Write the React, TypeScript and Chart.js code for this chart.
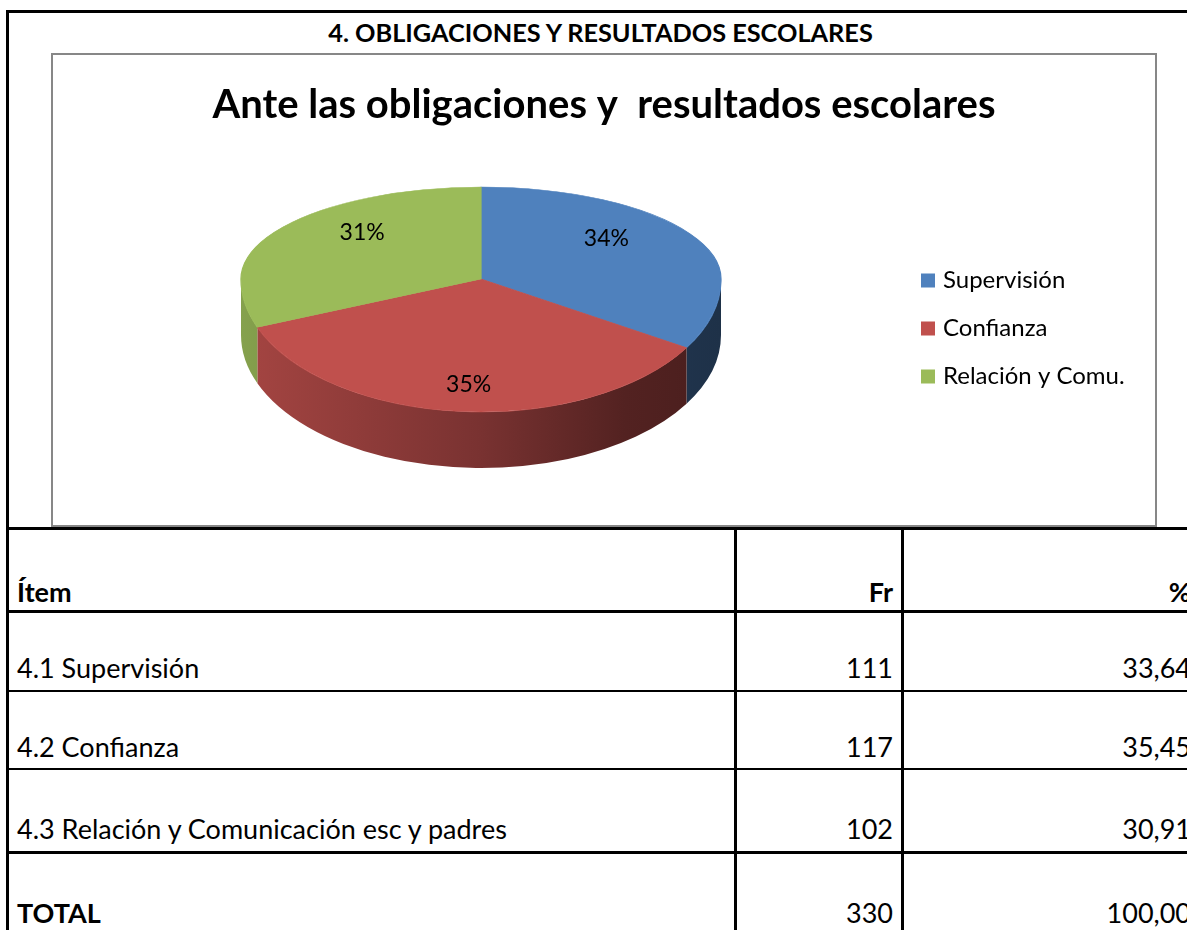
import React, { useEffect, useRef } from 'react';
import { Chart, registerables } from 'chart.js';

Chart.register(...registerables);

// ---- data ----
const sectionTitle = '4. OBLIGACIONES Y RESULTADOS ESCOLARES';
const chartTitle = 'Ante las obligaciones y  resultados escolares';
const legendLabels = ['Supervisión', 'Confianza', 'Relación y Comu.'];
const frequencies = [111, 117, 102];
const sliceColors = ['#4F81BD', '#C0504D', '#9BBB59'];
const headerLabels = ['Ítem', 'Fr', '%'];
const itemLabels = ['4.1 Supervisión', '4.2 Confianza', '4.3 Relación y Comunicación esc y padres'];
const percentLabels = ['33,64', '35,45', '30,91'];
const totalLabel = 'TOTAL';
const totalFrequency = '330';
const totalPercent = '100,00';

const FONT = 'Lato, "Open Sans", sans-serif';

// ---- 3D projection (canvas coords) ----
const CX = 428;
const CY = 224;
const RX = 240;
const RY_TOP = 92;
const RY_BOT = 133;
const DEPTH = 56;
const LABEL_KX = 0.6;
const LABEL_KY_TOP = 0.9;
const LABEL_KY_BOT = 0.8;
const LEGEND_LEFT = 848;
const LEGEND_TOP = 189.5;

function shade(hex: string, f: number) {
  const n = parseInt(hex.slice(1), 16);
  const r = Math.round(((n >> 16) & 255) * f);
  const g = Math.round(((n >> 8) & 255) * f);
  const b = Math.round((n & 255) * f);
  return `rgb(${r},${g},${b})`;
}

const pie3d = {
  id: 'pie3d',
  afterLayout(chart: any) {
    const lg = chart.legend;
    if (lg) {
      lg.left = LEGEND_LEFT;
      lg.top = LEGEND_TOP;
    }
  },
  beforeDatasetsDraw(chart: any) {
    const ctx = chart.ctx;
    const meta = chart.getDatasetMeta(0);
    const colors = chart.data.datasets[0].backgroundColor as string[];
    const TWO_PI = Math.PI * 2;
    meta.data.forEach((el: any, i: number) => {
      const { startAngle, endAngle } = el.getProps(['startAngle', 'endAngle'], true);
      for (const k of [-1, 0, 1, 2]) {
        const lo = Math.max(startAngle, k * TWO_PI);
        const hi = Math.min(endAngle, k * TWO_PI + Math.PI);
        if (hi <= lo) continue;
        const a = lo - k * TWO_PI;
        const b = hi - k * TWO_PI;
        ctx.save();
        ctx.beginPath();
        ctx.ellipse(CX, CY, RX, RY_BOT, 0, a, b, false);
        ctx.ellipse(CX, CY + DEPTH, RX, RY_BOT, 0, b, a, true);
        ctx.closePath();
        const g = ctx.createLinearGradient(CX - RX, 0, CX + RX, 0);
        g.addColorStop(0, shade(colors[i], 0.86));
        g.addColorStop(0.5, shade(colors[i], 0.63));
        g.addColorStop(0.8, shade(colors[i], 0.43));
        g.addColorStop(1, shade(colors[i], 0.38));
        ctx.fillStyle = g;
        ctx.fill();
        ctx.restore();
      }
    });
  },
  beforeDatasetDraw(chart: any, args: any) {
    const ctx = chart.ctx;
    const el = args.meta.data[0];
    const { x, y, outerRadius } = el.getProps(['x', 'y', 'outerRadius'], true);
    ctx.save();
    ctx.beginPath();
    ctx.rect(0, 0, chart.width, CY);
    ctx.clip();
    ctx.translate(CX, CY);
    ctx.scale(RX / outerRadius, RY_TOP / outerRadius);
    ctx.translate(-x, -y);
  },
  afterDatasetDraw(chart: any, args: any) {
    const ctx = chart.ctx;
    ctx.restore();
    const el = args.meta.data[0];
    const { x, y, outerRadius } = el.getProps(['x', 'y', 'outerRadius'], true);
    ctx.save();
    ctx.beginPath();
    ctx.rect(0, CY, chart.width, chart.height - CY);
    ctx.clip();
    ctx.translate(CX, CY);
    ctx.scale(RX / outerRadius, RY_BOT / outerRadius);
    ctx.translate(-x, -y);
    args.meta.controller.draw();
    ctx.restore();
  },
  afterDatasetsDraw(chart: any) {
    const ctx = chart.ctx;
    const meta = chart.getDatasetMeta(0);
    const values = chart.data.datasets[0].data as number[];
    const total = values.reduce((s, v) => s + v, 0);
    ctx.save();
    ctx.font = `23px ${FONT}`;
    ctx.fillStyle = '#000';
    ctx.textAlign = 'center';
    ctx.textBaseline = 'middle';
    meta.data.forEach((el: any, i: number) => {
      const { startAngle, endAngle } = el.getProps(['startAngle', 'endAngle'], true);
      const mid = (startAngle + endAngle) / 2;
      const s = Math.sin(mid);
      const lx = CX + Math.cos(mid) * RX * LABEL_KX;
      const ly = CY + s * (s < 0 ? RY_TOP * LABEL_KY_TOP : RY_BOT * LABEL_KY_BOT);
      ctx.fillText(`${Math.round((values[i] / total) * 100)}%`, lx, ly);
    });
    ctx.restore();
  },
};

function PieChart() {
  const ref = useRef<HTMLCanvasElement>(null);
  useEffect(() => {
    if (!ref.current) return;
    const chart = new Chart(ref.current, {
      type: 'pie',
      data: {
        labels: legendLabels,
        datasets: [
          {
            data: frequencies,
            backgroundColor: sliceColors,
            borderColor: sliceColors,
            borderWidth: 1,
            clip: false,
          } as any,
        ],
      },
      options: {
        animation: false,
        responsive: true,
        maintainAspectRatio: false,
        events: [],
        layout: { padding: 0 },
        plugins: {
          tooltip: { enabled: false },
          title: {
            display: true,
            text: chartTitle,
            color: '#000',
            font: { family: FONT, size: 40, weight: 'bold' },
            padding: { top: 26, bottom: 10 },
          },
          legend: {
            position: 'right',
            align: 'start',
            labels: {
              color: '#000',
              font: { family: FONT, size: 24 },
              boxWidth: 6,
              boxHeight: 6,
              padding: 24,
              generateLabels: (c: any) =>
                (Chart as any).overrides.doughnut.plugins.legend.labels
                  .generateLabels(c)
                  .map((l: any) => ({ ...l, lineWidth: 8, strokeStyle: l.fillStyle })),
            },
          },
        },
      } as any,
      plugins: [pie3d],
    });
    return () => chart.destroy();
  }, []);
  return <canvas ref={ref} />;
}

type TextProps = {
  x: number;
  baseline: number;
  size: number;
  bold?: boolean;
  align?: 'left' | 'right' | 'center';
  children: React.ReactNode;
};

function Txt({ x, baseline, size, bold, align = 'left', children }: TextProps) {
  const w = 1000;
  const left = align === 'left' ? x : align === 'right' ? x - w : x - w / 2;
  return (
    <div
      style={{
        position: 'absolute',
        left,
        width: align === 'left' ? undefined : w,
        top: baseline - 0.987 * size,
        fontSize: size,
        lineHeight: `${1.2 * size}px`,
        fontWeight: bold ? 700 : 400,
        textAlign: align,
        whiteSpace: 'pre',
        color: '#000',
      }}
    >
      {children}
    </div>
  );
}

function Line({ left, top, width, height }: { left: number; top: number; width: number; height: number }) {
  return <div style={{ position: 'absolute', left, top, width, height, background: '#000' }} />;
}

const TABLE_SIZE = 27;
const rowBaselines = [679, 758, 840];

export default function App() {
  return (
    <div
      style={{
        position: 'fixed',
        left: 0,
        top: 0,
        width: 1187,
        height: 930,
        overflow: 'hidden',
        background: '#fff',
        fontFamily: FONT,
      }}
    >
      {/* outer frame */}
      <Line left={6} top={10} width={1200} height={3} />
      <Line left={6} top={10} width={3} height={930} />
      <Txt x={600.5} baseline={42} size={25.3} bold align="center">
        {sectionTitle}
      </Txt>

      {/* chart box */}
      <div
        style={{
          position: 'absolute',
          left: 51,
          top: 53,
          width: 1102,
          height: 470,
          border: '2px solid #878787',
          background: '#fff',
        }}
      >
        <div style={{ position: 'absolute', left: 0, top: 0, width: 1102, height: 470 }}>
          <PieChart />
        </div>
      </div>

      {/* table */}
      <Line left={6} top={527} width={1200} height={3} />
      <Line left={6} top={610} width={1200} height={3} />
      <Line left={6} top={690} width={1200} height={2} />
      <Line left={6} top={768} width={1200} height={2} />
      <Line left={6} top={851} width={1200} height={3} />
      <Line left={734} top={527} width={3} height={410} />
      <Line left={901} top={527} width={3} height={410} />

      <Txt x={17} baseline={603} size={TABLE_SIZE} bold>
        {headerLabels[0]}
      </Txt>
      <Txt x={893} baseline={603} size={TABLE_SIZE} bold align="right">
        {headerLabels[1]}
      </Txt>
      <Txt x={1191} baseline={603} size={TABLE_SIZE} bold align="right">
        {headerLabels[2]}
      </Txt>

      {itemLabels.map((label, i) => (
        <React.Fragment key={label}>
          <Txt x={17} baseline={rowBaselines[i]} size={TABLE_SIZE}>
            {label}
          </Txt>
          <Txt x={893} baseline={rowBaselines[i]} size={TABLE_SIZE} align="right">
            {String(frequencies[i])}
          </Txt>
          <Txt x={1191} baseline={rowBaselines[i]} size={TABLE_SIZE} align="right">
            {percentLabels[i]}
          </Txt>
        </React.Fragment>
      ))}

      <Txt x={17} baseline={924} size={TABLE_SIZE} bold>
        {totalLabel}
      </Txt>
      <Txt x={893} baseline={924} size={TABLE_SIZE} align="right">
        {totalFrequency}
      </Txt>
      <Txt x={1191} baseline={924} size={TABLE_SIZE} align="right">
        {totalPercent}
      </Txt>
    </div>
  );
}
